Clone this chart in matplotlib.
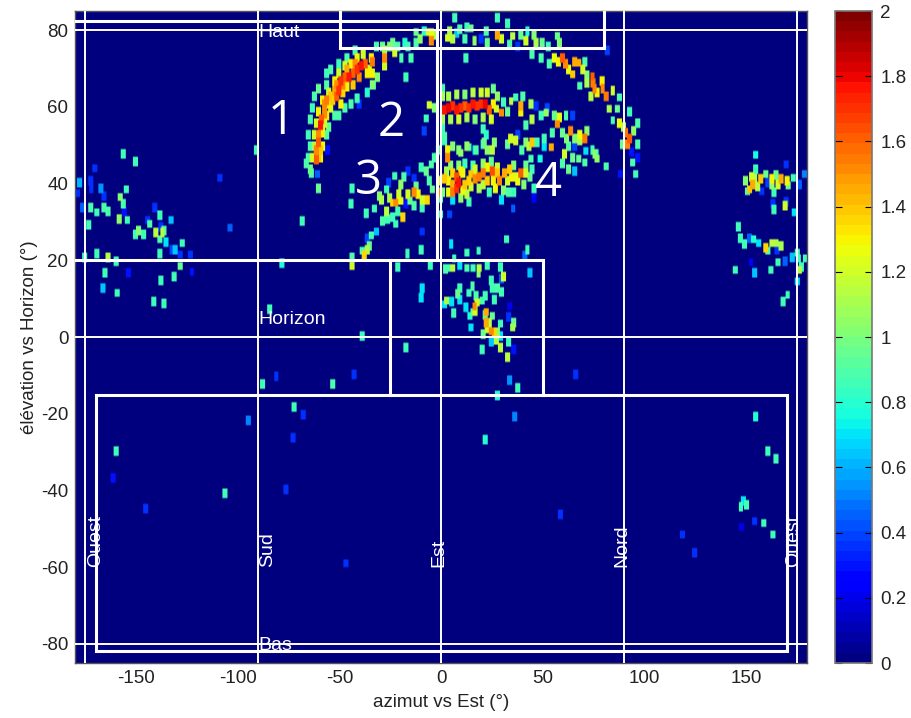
import matplotlib
matplotlib.use("Agg")
import numpy as np
import matplotlib.pyplot as plt
from matplotlib.colors import Normalize, ListedColormap
from matplotlib.cm import ScalarMappable

plt.rcParams['font.family'] = ['Liberation Sans', 'DejaVu Sans']

# (azimuth deg, elevation deg, value)
arc_sud = [
 (-61,46.5,1.6),(-61,49,1.5),(-60,51,1.6),(-60,53,1.5),(-59,55.5,1.75),(-58.5,57,1.6),(-57,58.5,1.5),(-57,61,1.5),
 (-56,62,1.55),(-51,63,1.6),(-50,64.5,1.7),(-51,66,1.5),(-49,67,1.7),(-47,68,1.6),(-45,68,1.75),(-43,69,1.6),
 (-41,70,1.7),(-39,71,1.75),(-37,71.5,1.6),(-40,68,1.5),(-43,66,1.4),
 (-59,49,1.4),(-60,47,1.4),(-54,63,1.4),(-48,66,1.5),(-46,70,1.45),(-42,71.5,1.5),(-52,64.5,1.45),(-55,61,1.3),
 (-63,47,1.2),(-59,47,1.3),(-62,50,1.1),(-58,50,1.25),(-62,53,1.2),(-58,53.5,1.3),(-61,56,1.2),(-57,56,1.2),
 (-60,59,1.3),(-56,58,1.3),(-58,62,1.3),(-54,60,1.2),(-55,64,1.2),(-53,62,1.4),(-49,61,1.3),(-52,67,1.3),
 (-48,64,1.35),(-50,69,1.2),(-46,65.5,1.3),(-47,71,1.2),(-44,71.5,1.3),(-41,73,1.3),(-38,74,1.2),(-36,69,1.3),
 (-34,73,1.3),(-35,70,1.2),
 (-64,44,0.95),(-65,47,0.9),(-64,50,0.9),(-65,53,0.85),(-64,57,0.9),(-63,60,0.85),(-62,63,0.9),(-60,65,0.95),
 (-56,66,0.9),(-56,69,0.85),(-54,70,0.9),(-50,71.5,0.85),(-46,73,0.9),(-42,75,0.85),(-63.6,43,0.9),(-66,45.4,0.9),
 (-60.5,42.7,0.45),(-55.6,49,0.3),(-60,39,0.95),(-56,53,0.9),(-55,55,0.95),(-52,58,0.9),(-50,58,0.9),(-47,60,0.9),
 (-44,61,0.9),(-41,62.5,0.85),(-40,61,0.35),(-36,64,0.8),(-33,66,0.9),(-31,68,1.0),
 (-33.5,72,1.55),(-33.5,69,1.3),(-33.5,66,1.0),(-27.6,73,1.5),(-27.6,71,1.2),(-27.6,75,1.1),(-22.7,74.3,1.2),
 (-31.7,76,0.9),(-28.5,76,0.95),(-23.5,77,0.95),(-17.7,77,0.8),(-16,76,0.85),(-19.3,73,0.9),(-14.5,73,0.9),(-17,68,0.85),
 (-25,76,1.0),(-21,76,0.9),
]
arc_haut = [
 (-12,79.6,0.95),(-10,78,1.05),(-8,80,0.8),(-6,79.6,1.2),(-4.7,77.5,1.5),(-4.7,79.5,1.25),(-12,77,0.9),(-2,79,1.1),
 (3.3,78.3,1.2),(5.8,78,1.15),(4.5,80,1.1),(9.3,80.5,0.9),(13,81,0.85),(7,83.4,0.85),(12,78,0.9),(16.7,77.5,1.05),
 (12.4,73,0.85),(15,80.8,0.95),(22.5,80,0.9),(23,77,0.95),(28,83.4,0.85),(33,82,0.85),(28,79,1.45),(30,78,1.2),(35.5,78.7,1.15),
 (34,76.5,0.9),(39.5,79,0.95),(42.7,80,0.75),(46,79,1.0),(42,77.5,1.2),(47,77,1.1),(50,77,0.95),(45,74,0.9),
 (49.5,73,0.9),(57.4,78.7,0.95),(58.4,77,1.0),(53,76,0.85),(38,76,0.35),(20,78,0.35),(8,79.5,0.65),
]
arc_nord = [
 (56,73,1.25),(53.5,71.5,0.9),(60,73,1.6),(61.5,71.5,1.5),(58,72,1.3),(65.8,72,1.45),(68,71.7,1.45),(63,70,1.25),(65,68.8,1.4),
 (70,70,1.2),(72,68.5,1.0),(74.7,68.3,1.6),(75,66.5,1.55),(75.7,65,1.5),(79.7,65,1.5),(79.5,67,1.3),(81.6,63,1.55),(77,64,1.3),
 (74,63,1.15),(72,66.5,1.1),(68.3,65.6,0.9),(84.7,64.4,1.2),(88,62.7,0.9),(83,59.7,1.1),(87,59.7,0.95),(84.7,56.8,0.9),
 (88,56,1.25),(93,59,0.85),(90,55,1.1),(91,53.5,1.55),(93,52,1.6),(92,50.5,1.5),(97,50.5,0.9),(97,56,0.9),(95,54,1.05),
 (89.5,50.5,0.95),(94.5,45.7,0.9),(97,47,0.3),(96,42.7,0.85),(88.4,42.7,0.3),(82,75,0.4),(94,48.5,0.3),(71,72,0.9),
]
arc_2 = [
 (2,59.5,1.75),(4,60,1.8),(6,60.5,1.7),(8,59.5,1.75),(10,60,1.7),(12,60.5,1.6),(14,60,1.7),(16,61,1.75),(18,60.5,1.7),
 (20,61,1.7),(22,61,1.8),(24,59.5,1.6),(26,61,1.3),
 (1,63,1.1),(4,63,1.1),(8,63.5,1.1),(12,63.5,1.0),(16,64,1.15),(20,64,1.2),(23,64,1.2),(26,65,0.95),
 (1,57,1.1),(5,57,1.1),(9,57,1.2),(13,57.5,1.1),(17,57,1.0),(21,57.5,1.1),(25,57,1.2),
 (-5.5,60.8,1.2),(-7,57.3,0.85),(1,65,0.85),(-3,60,1.0),(28,63,1.05),(30,58.7,1.5),(27.6,59.7,1.2),(34.7,61.8,1.15),
 (39.5,60.5,1.45),(39.5,58.7,1.3),(44.5,61,1.1),(45,57,1.15),(49.5,58,0.85),(52,58.7,1.05),(37,62.6,0.85),
 (47,60.5,0.35),(52.6,60,0.4),(57.4,55.8,1.5),(58.4,57.4,1.25),(56,58,0.95),(64,54,1.5),(61.7,58,0.9),(60,53.5,0.95),
 (70.8,52,1.55),(68.3,53,1.25),(68.3,51.4,1.1),(55,53.5,0.9),(71.5,48.8,0.7),(74.7,49,0.85),(65,58,0.4),(75.7,48,1.0),(77,46.6,1.05),
 (40.5,63,0.9),(33,59,0.95),(31,61.5,0.85),(42,55.5,0.9),(62,52,1.0),(66,52,1.0),(72,54,1.0),(63,50,0.9),(1,54.8,0.85),
 (-8,54,0.4),(66,50,0.4),
]
arc_3 = [
 (3.4,47,1.5),(3.4,49,1.3),(9,49,1.0),(13,50,1.05),(10,48.3,1.05),(16.7,49,0.7),(21,54.5,0.85),(21.5,51,0.95),(23,49,1.05),
 (26.5,51,1.0),(25.6,49,1.15),(34.6,52,1.2),(37,51.4,1.2),(40,49,0.9),(42,51,1.0),(51,52,0.85),(51,49.6,0.7),(54.4,49.6,1.45),
 (44.5,46.7,0.9),(49,46.7,0.75),(2,52.7,0.9),(2,51.4,0.85),(33,50.5,0.95),(45,51,1.4),(43.5,50,1.15),(47.6,51,0.85),
 (61,48,1.2),(65,47,0.95),(68,46.6,0.95),(71,45.7,0.9),(76.5,48,0.9),(81.5,44.6,0.9),(66,43.5,0.65),
 (22.5,53,0.8),(14,49.6,0.9),(20.7,50.5,0.9),(24,49.3,0.95),(17.4,49,0.9),(6,50,1.0),(38,53,0.4),(60,45.5,0.9),(63,44,0.95),
]
arc_4 = [
 (8,42,1.65),(9,40.5,1.75),(8,39,1.7),(6,38,1.55),(21,43,1.55),(25.5,43.5,1.65),(29,41,1.5),(31.5,43,1.45),(34,44,1.4),
 (39.5,43,1.6),(15,42.7,1.4),(17,41.5,1.5),(2,41.5,1.4),(6,43,1.35),(6,40,1.45),(12,40,1.4),(19,42,1.55),(23,41,1.4),
 (10,43.5,1.3),(14,41,1.35),(26,41,1.3),(35,42,1.3),(38,41,1.25),(42,43,1.2),(4,41,1.3),(11,38.5,1.25),(28,43,1.4),
 (23,44.5,1.3),(17,44,1.2),(21,40,1.15),
 (4,38,1.25),(3,43.5,1.1),(5,45,1.05),(11,43,1.25),(13,37.5,1.15),(10,36.5,1.05),(15,39.5,1.2),(19,39,1.1),(21,45.5,1.05),
 (25,46,0.95),(28,44.5,1.2),(27,39,1.25),(31,38.5,1.0),(33,41,1.2),(36,45,1.0),(37,42,1.2),(42,45,0.95),(44,42,0.95),
 (41,40,1.0),(45,44,0.85),(1,38,1.0),(0,36.5,0.9),(16,45,0.9),(12,45.5,0.85),(9,45,1.0),(24,38,0.85),(36,38,0.85),
 (33.5,38,0.9),(14,35.5,0.85),(46,39,0.85),(30,36,0.7),
]
arc_3_left = [
 (-22,35.3,1.5),(-23.7,35.3,1.35),(-19.5,35.7,1.25),(-18.7,31.4,1.35),(-13,38,1.5),(-11,37.5,1.3),(-16,37.5,1.2),(-6.5,36,1.35),
 (-9,36,1.2),(-29,36,1.1),(-26.7,33,1.15),(-28.5,30.5,0.9),(-26,31,0.85),(-23.7,31.4,0.85),(-22,29.7,0.85),(-32.5,33.6,0.85),
 (-36.6,32.4,0.85),(-44,35,0.85),(-43.6,39,0.85),(-30,37,1.0),(-26.7,38.8,0.85),(-22.7,42.2,0.85),(-19.5,40,1.05),(-16,43.5,0.35),
 (-25.4,40.5,0.4),(-13,41.8,0.35),(-12,39.6,0.95),(-9,33.6,0.85),(-13,34.4,0.9),(-15,35.7,0.95),(-9.6,44.4,0.85),(-7,43.5,0.95),
 (-4.7,45.3,0.9),(-5.5,41,0.9),(-4,38.8,0.95),(-1,38,1.5),(3.4,46.7,1.5),(3.4,48.7,1.25),(-0.6,41,1.25),(6,35.7,0.7),(4.4,32.3,0.4),
 (0,32.3,0.85),(-3,47,0.9),(-1,49,0.9),(-18,42,0.9),(-20.5,37.5,1.2),(-25,36.5,1.1),(-21,33,0.85),(-17,35,0.3),
 (-9,27.7,0.35),(-31.5,27.7,0.65),(-34,26.6,0.85),(-36,26,0.4),(-35,24,0.95),(-38.4,22.7,0.9),(-37.5,21.4,1.35),(-36,23,1.1),
 (-43.4,20.9,0.9),(-43.4,18.8,1.2),(-16.3,22,0.85),(-9.6,23,0.85),(-5,19,0.85),(-21,18.5,0.85),(5.2,24.5,0.7),(32.3,25.8,0.85),
 (42.7,23,0.85),(41.6,21.4,0.45),(43.7,17.2,0.65),(35.7,33.6,0.45),(46,36.5,0.25),
]
cluster = [
 (-5,19,0.85),(3.5,18.2,0.9),(6,18.2,1.15),(9.4,19,0.7),(13,18.2,0.9),(16,18.2,0.85),(19,18.2,1.15),(18.7,17,1.0),(23,19,0.85),
 (29.4,18.5,0.85),(31,16,1.2),(29.8,15.4,0.45),(44,17,0.65),(25,15,0.85),(25.6,13,0.85),(28,13,0.9),(30,12,0.85),(9.4,13,0.85),
 (15.7,13.5,0.9),(-9,13,0.7),(-9.4,10.5,0.7),(14,11.8,0.85),(17.4,11,0.9),(22,11,0.85),(26.6,10,0.85),(9.4,10,0.7),(8.5,11.5,0.95),
 (3,9.6,1.1),(2,8.6,0.7),(5.5,9.5,0.7),(6.4,6.5,0.85),(12.4,7.9,0.7),(16.7,8.3,1.5),(18,9.2,1.2),(20.6,9.6,0.9),(15.7,6.6,0.95),
 (14.4,5.7,0.8),(22.5,6.6,1.45),(22.5,4,1.45),(23,2.4,1.2),(25,1.8,1.5),(26.6,1.4,1.35),(25.3,5.7,0.95),(15,2.6,0.7),(29.3,3.6,0.85),
 (33.4,5.5,0.35),(36,4,0.95),(35.3,2.6,1.1),(29.3,0.5,0.7),(25,-1,0.65),(27.4,-0.5,1.15),(33.4,-1,0.85),(20.6,-3,0.85),(29.4,-2.5,1.15),
 (36,-3,0.3),(33,-5,1.15),(34,-11,0.55),(38,-13,0.85),(28,-15,0.8),(36.5,-20.5,0.5),(-17,-2.5,0.85),(34,8.3,0.2),
 (6.7,20.6,0.85),(13,22.2,0.85),(18.7,22.7,0.85),(2.6,18,0.9),(22,6,0.95),(21,1,0.95),(24,4,1.15),(28,1.5,1.0),(17,7,1.2),
]
west = [
 (-156,48,0.85),(-150,46,0.85),(-170,44.3,0.35),(-177.7,40.4,0.6),(-172,41,0.35),(-178.5,37.6,0.35),(-171.8,38.6,0.35),(-167,39,0.55),
 (-165.4,37,0.35),(-157.5,36.6,1.0),(-154.6,38.6,0.85),(-156,35,0.9),(-176,34,0.45),(-172,34,0.9),(-169,32.6,0.85),(-165.4,34,0.9),
 (-163.4,33,0.9),(-158,31,1.05),(-154,30.7,0.85),(-155.5,33,0.3),(-140.5,34,0.35),(-138,32,0.85),(-144,30.7,0.35),(-132.6,30.7,0.65),
 (-137.5,29,0.35),(-148.7,27.9,1.0),(-150,27,0.85),(-146,27,0.85),(-143,29.7,0.9),(-140,27.5,1.15),(-136.8,27.5,1.15),(-136,28,0.9),
 (-138,25.6,0.9),(-135,25,0.7),(-173,29.5,0.85),(-127,24.6,0.85),(-132,23,0.4),(-130.5,23,0.65),(-138,22,0.85),(-128,21.6,0.35),
 (-123,21.6,0.35),(-175,21,0.85),(-169,22,0.85),(-163.4,21,1.15),(-159.7,20,0.85),(-128,18.6,0.95),(-165,17,0.85),(-153.5,17,0.3),
 (-131,16,0.85),(-137.6,15,0.85),(-122.3,17.3,0.3),(-166,13,0.65),(-159,11.6,0.85),(-141,9.5,0.85),(-136,9,0.85),
 (-103.6,28.7,0.45),(-108.5,41.7,0.35),(-90.5,49,0.85),(-68,30.5,0.85),(-78,19.5,0.8),(-84,7.5,0.85),(-38.5,0.5,0.85),
]
east = [
 (154.8,47.7,0.75),(170,45.3,0.35),(154.8,44,0.85),(150.8,38.3,0.9),(153.4,40,1.45),(151.8,38.8,1.4),(150,41,1.0),(154.4,41.8,1.15),
 (157.6,41.5,1.4),(156,39.5,1.15),(153,42,1.2),(160,42.7,0.95),(163,41.5,1.3),(163,39.6,1.05),(161,40.5,0.4),(167.5,41.5,1.45),
 (166,40,1.2),(165,42.5,0.95),(170.6,41,1.3),(173.5,41.7,0.85),(171,39.6,0.95),(164,37.9,0.85),(158,38.3,0.35),(176.7,40,0.45),
 (179,42.7,0.5),(164,33.4,0.85),(169.6,34.4,1.2),(170,35.5,0.35),(174,32.7,0.7),(163.5,35,0.35),
 (146.5,29,0.85),(147.4,26,0.85),(149.5,24.4,0.85),(152,26,0.45),(154,25.6,0.8),(156.4,24.6,0.7),(160,23.4,1.35),(161,22.6,0.85),
 (163,24.6,1.15),(165,24.6,1.1),(167.5,24,1.1),(165.5,23,0.35),(175.4,22.2,0.85),(176,20.8,0.85),(179.4,20.8,0.85),(173,21,0.65),
 (169.4,20,0.45),(166,19.6,0.85),(177.3,18.5,0.85),(176.6,17.7,1.15),(145,17.7,0.85),(154.4,17,0.65),(162.5,17.7,0.85),(152.7,19.6,0.25),
 (175.5,14.6,0.7),(170.7,11.2,0.85),(168.3,9.5,0.85),
]
lower = [
 (-87.7,-12,0.85),(-80.8,-10,0.35),(-53,-12,0.9),(-42.5,-9.5,0.35),(-72,-18,0.85),(-67.5,-20,0.35),(-94.6,-21.6,0.5),(-72.6,-26,0.35),
 (-159.7,-29.6,0.85),(-161,-36.6,0.3),(-106,-40.6,0.85),(-76,-39.6,0.35),(-145,-44.6,0.35),(-46.5,-58.7,0.35),
 (154.8,-20.6,0.8),(160.8,-29.6,0.85),(164.8,-31.6,0.85),(149,-42.5,0.7),(150.4,-43.5,0.85),(147.7,-44,0.85),(154.4,-47.9,0.35),
 (159,-48.2,0.85),(148,-49.3,0.2),(163.5,-51.2,0.85),(119,-51.2,0.35),(125,-56,0.35),(58.9,-46,0.35),(66.3,-9.5,0.35),(22,-26.5,0.8),
]
groups = [arc_sud, arc_haut, arc_nord, arc_2, arc_3, arc_4, arc_3_left, cluster, west, east, lower]

x_ticks = [-150, -100, -50, 0, 50, 100, 150]
y_ticks = [-80, -60, -40, -20, 0, 20, 40, 60, 80]
cb_ticks = [0, 0.2, 0.4, 0.6, 0.8, 1, 1.2, 1.4, 1.6, 1.8, 2]
cb_labels = ['0', '0.2', '0.4', '0.6', '0.8', '1', '1.2', '1.4', '1.6', '1.8', '2']
guide_h = [80, 0, -80]
guide_v = [-175, -90, 0, 90, 175]

W, H = 912, 718
fs = 13.5
fig = plt.figure(figsize=(W/100, H/100), dpi=100)
ax = fig.add_axes([75.3/W, (H-663)/H, 732/W, 652/H])
cmap = ListedColormap(plt.get_cmap('jet')(np.linspace(0, 1, 64)))
norm = Normalize(0, 2)

# fine map: 0.5 deg cells, every reading stamps a block, strongest wins
step = 0.5
naz, nel = int(360/step), int(170/step)
grid = np.zeros((nel, naz))
half_a, half_e = 1.2, 1.1
for a, e, v in [p for g in groups for p in g]:
    i0, i1 = int((a-half_a+180)/step), int((a+half_a+180)/step)
    j0, j1 = int((e-half_e+85)/step), int((e+half_e+85)/step)
    i0, j0 = max(i0, 0), max(j0, 0)
    grid[j0:j1, i0:i1] = np.maximum(grid[j0:j1, i0:i1], v)
ax.imshow(grid, origin='lower', extent=[-180, 180, -85, 85], aspect='auto', cmap=cmap, norm=norm,
          interpolation='bilinear', interpolation_stage='rgba', zorder=1)
ax.set_xlim(-180, 180)
ax.set_ylim(-85, 85)

for v in guide_h:
    ax.axhline(v, color='white', lw=1.4, zorder=3)
for v in guide_v:
    ax.axvline(v, color='white', lw=1.4, zorder=3)

boxes = [
 ([-180, -2, -2], [82.3, 82.3, 20]),
 ([-50, -50, 80, 80], [85, 75.3, 75.3, 85]),
 ([-180, 50, 50], [20, 20, -15]),
 ([-25, -25], [20, -15]),
 ([-170, 170, 170, -170, -170], [-15, -15, -82, -82, -15]),
]
for bx, by in boxes:
    ax.plot(bx, by, color='white', lw=2.2, zorder=4, solid_joinstyle='miter')

tkw = dict(color='white', fontsize=14, zorder=5)
ax.text(-90, 79.5, 'Haut', va='center', ha='left', **tkw)
ax.text(-90, 4.5, 'Horizon', va='center', ha='left', **tkw)
ax.text(-90, -80.5, 'Bas', va='center', ha='left', **tkw)
for az, lab in [(-170, 'Ouest'), (-85.5, 'Sud'), (-1.2, 'Est'), (89, 'Nord'), (173.5, 'Ouest')]:
    ax.text(az, -60, lab, rotation=90, va='bottom', ha='center', **tkw)
for az, el, lab in [(-78.5, 56.2, '1'), (-24.5, 55.7, '2'), (-36, 40.7, '3'), (52.5, 40, '4')]:
    ax.text(az, el, lab, color='white', fontsize=34, family='Open Sans', ha='center', va='center', zorder=5)

ax.set_xticks(x_ticks)
ax.set_yticks(y_ticks)
ax.tick_params(length=0, labelsize=fs, pad=5, labelcolor='#222222')
ax.set_xticklabels([str(v) for v in x_ticks])
ax.set_yticklabels([str(v) for v in y_ticks])
ax.set_xlabel('azimut vs Est (°)', fontsize=fs, color='#222222', labelpad=5)
ax.set_ylabel('élévation vs Horizon (°)', fontsize=fs, color='#222222', labelpad=2)
for s in ax.spines.values():
    s.set_color('#555555')
    s.set_linewidth(1)

cax = fig.add_axes([835/W, (H-663)/H, 37/W, 652/H])
cb = fig.colorbar(ScalarMappable(norm=norm, cmap=cmap), cax=cax, ticks=cb_ticks)
cb.ax.set_yticklabels(cb_labels)
cb.ax.tick_params(direction='in', left=True, right=True, length=5, width=0.8, labelsize=fs, pad=6, labelcolor='#222222')
cb.outline.set_edgecolor('#777777')
cb.outline.set_linewidth(1.2)

fig.savefig('out.png', dpi=100)
